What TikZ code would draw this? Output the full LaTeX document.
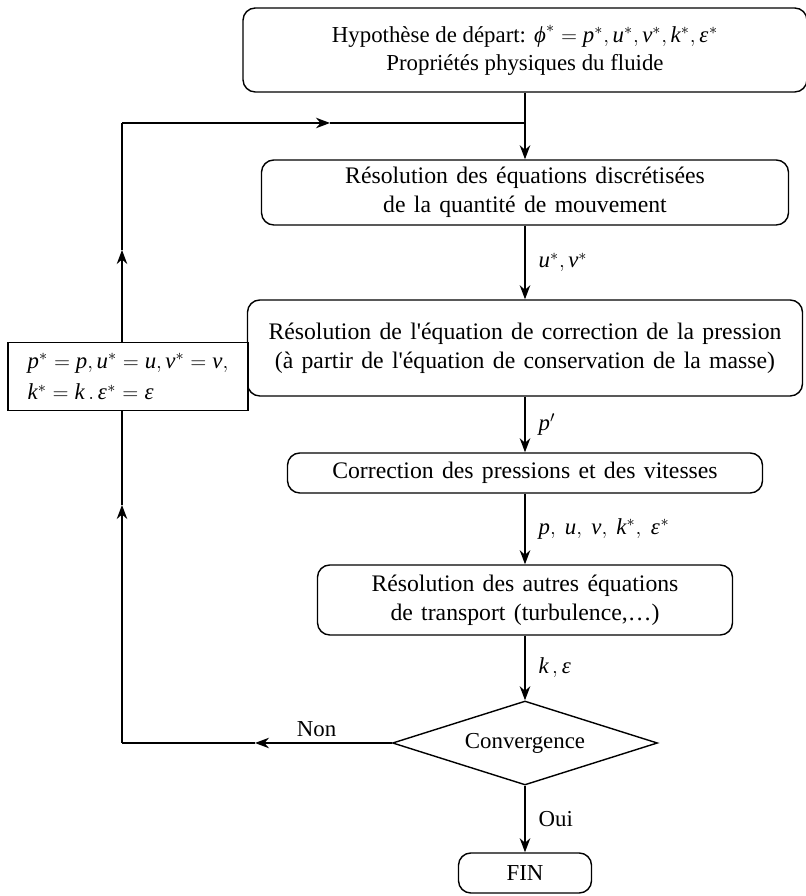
\documentclass[tikz,border=0pt]{standalone}
\usepackage{mathspec}
\setmainfont{Liberation Serif}
\setmathsfont(Digits,Latin,Greek){Liberation Serif}
\newfontfamily\etapefont[WordSpace = 1.4]{Liberation Serif}
\usetikzlibrary{arrows.meta, shapes.geometric, positioning}

\tikzset{
	etape/.style = {draw, rounded corners = 7pt, align = center, inner sep = 2pt,
		font = \etapefont\fontsize{13.5}{16.5}\selectfont},
	test/.style = {draw, diamond, aspect = 3.2, inner sep = 0pt},
	maj/.style = {draw, fill = white, align = left, inner sep = 6pt},
	etiquette/.style = {right, xshift = 4pt}
}

\begin{document}
\begin{tikzpicture}[> = {Stealth[length = 8pt, width = 6pt]}, line width = 0.8pt, font = \fontsize{13}{16}\selectfont]

	% Definitions

	\def\xc{10.5}		% Abscissa of the main column
	\def\xl{2.44}		% Abscissa of the return branch
	\def\yt{15.46}		% Ordinate where the return branch rejoins

	\useasboundingbox (0, 0) rectangle (16.1, 17.92);

	% Steps of the algorithm

	\node [etape, font = \rmfamily\fontsize{13}{16}\selectfont, minimum width = 11.28cm, minimum height = 1.68cm] (depart) at (\xc, 16.92)
		{Hypothèse de départ: $\varphi^* = p^*, u^*, v^*, k^*, \epsilon^*$\\ Propriétés physiques du fluide};
	\node [etape, minimum width = 10.54cm, minimum height = 1.3cm] (qdm) at (\xc, 14.07)
		{Résolution des équations discrétisées\\ de la quantité de mouvement};
	\node [etape, minimum width = 11.1cm, minimum height = 1.92cm] (pression) at (\xc, 10.96)
		{Résolution de l'équation de correction de la pression\\ (à partir de l'équation de conservation de la masse)};
	\node [etape, minimum width = 9.5cm, minimum height = 0.8cm] (correction) at (\xc, 8.46)
		{Correction des pressions et des vitesses};
	\node [etape, minimum width = 8.3cm, minimum height = 1.4cm] (transport) at (\xc, 5.92)
		{Résolution des autres équations\\ de transport (turbulence,\dots)};
	\node [test, minimum width = 5.3cm, minimum height = 1.68cm] (conv) at (\xc, 3.06) {Convergence};
	\node [etape, font = \rmfamily\fontsize{13}{16}\selectfont, minimum width = 2.66cm, minimum height = 0.8cm] (fin) at (\xc, 0.46) {FIN};

	% Update of the guessed fields

	\node [maj, minimum width = 4.8cm, minimum height = 1.34cm] (miseajour) at (2.56, 10.39)
		{$p^* = p, u^* = u, v^* = v,$\\[2pt] $k^* = k\,.\,\epsilon^* = \epsilon$};

	% Main column

	\draw [->] (depart) -- (qdm);
	\draw [->] (qdm) -- node [etiquette] (l-uv) {$u^*, v^*$} (pression);
	\draw [->] (pression) -- node [etiquette] (l-p) {$p'$} (correction);
	\draw [->] (correction) -- node [etiquette] (l-tout) {$p,\ u,\ v,\ k^*,\ \epsilon^*$} (transport);
	\draw [->] (transport) -- node [etiquette] (l-ke) {$k\,, \epsilon$} (conv);
	\draw [->] (conv) -- node [etiquette] (l-oui) {Oui} (fin);

	% Return branch

	\coordinate (retour) at (\xl, \yt);
	\coordinate (jonction) at (\xc, \yt);
	\coordinate (coin) at (conv.west -| retour);
	\coordinate (f-non) at (5.1, 3.06);
	\coordinate (f-bas) at (\xl, 7.82);
	\coordinate (f-haut) at (\xl, 12.92);
	\coordinate (f-retour) at (6.6, \yt);

	\draw [->] (conv.west) -- node [above, pos = 0.55] (l-non) {Non} (f-non);
	\draw (f-non) -- (coin);
	\draw [->] (coin) -- (f-bas);
	\draw (f-bas) -- (miseajour.south -| retour);
	\draw [->] (miseajour.north -| retour) -- (f-haut);
	\draw (f-haut) -- (retour);
	\draw [->] (retour) -- (f-retour);
	\draw (f-retour) -- (jonction);

\end{tikzpicture}
\end{document}
